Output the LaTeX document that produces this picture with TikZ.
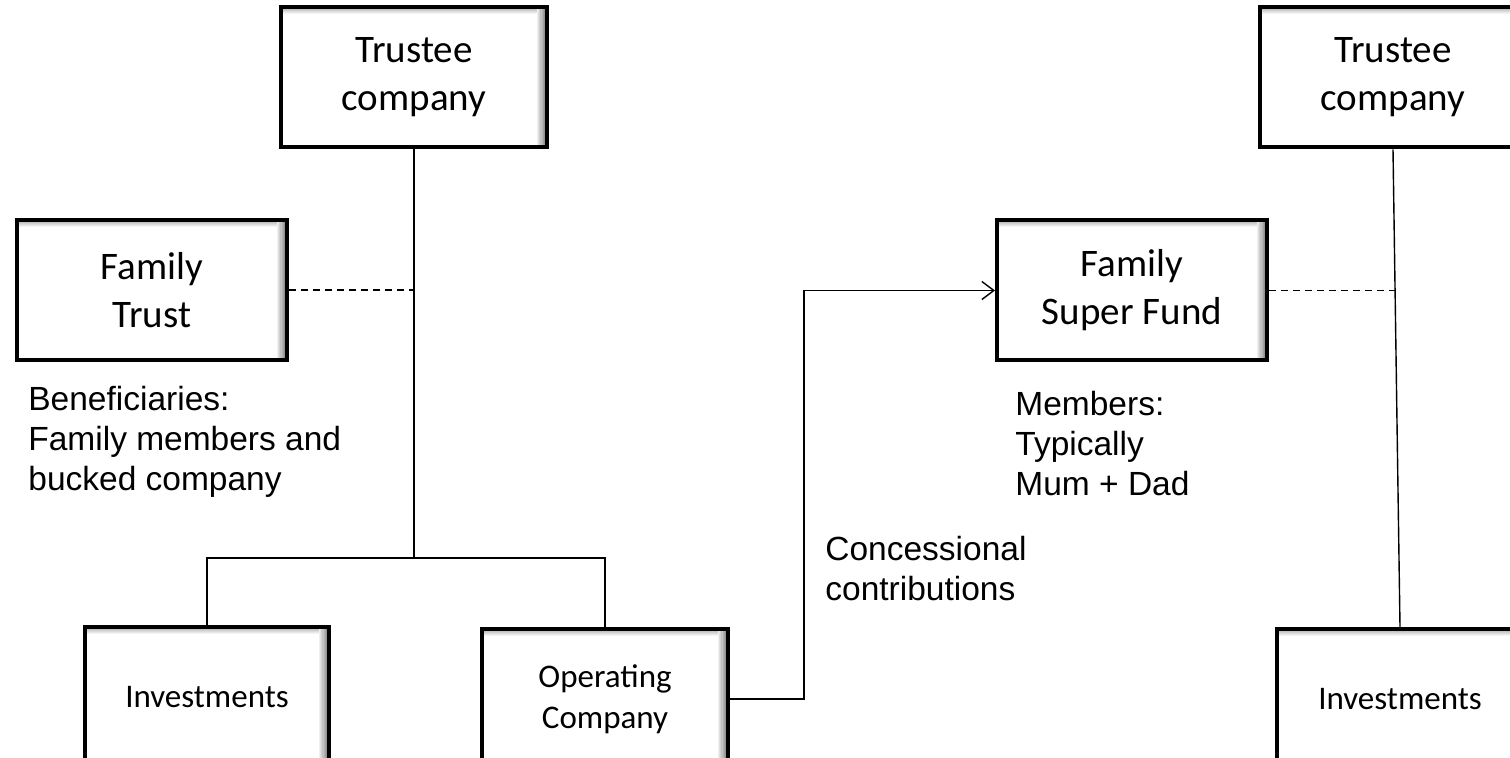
\documentclass[tikz,border=0pt]{standalone}
\usepackage{fontspec}
\setmainfont{Liberation Sans}
\newfontfamily\calibri{Carlito}
\usetikzlibrary{arrows.meta}
\usetikzlibrary{positioning}

\begin{document}
\begin{tikzpicture}[
    x=0.5pt, y=0.5pt,
    box/.style={draw=black, line width=2pt, fill=white, inner sep=0pt,
      align=center, minimum height=70pt,
      path picture={
        \foreach \k [evaluate=\k as \shd using int(24-5*\k)] in {0,...,4}
          \draw[black!\shd, line width=0.55pt]
            ([yshift=-1.2pt-0.5pt*\k]path picture bounding box.north west) --
            ([yshift=-1.2pt-0.5pt*\k]path picture bounding box.north east);
        \foreach \k [evaluate=\k as \shd using int(42-6*\k)] in {0,...,6}
          \draw[black!\shd, line width=0.65pt]
            ([xshift=-1.2pt-0.6pt*\k]path picture bounding box.north east) --
            ([xshift=-1.2pt-0.6pt*\k]path picture bounding box.south east);
      }},
    bigbox/.style={box, font=\calibri\fontsize{19.5pt}{24pt}\selectfont},
    smallbox/.style={box, font=\calibri\fontsize{16.5pt}{20.5pt}\selectfont},
    link/.style={line width=0.7pt, draw=black},
    tie/.style={link, dash pattern=on 3.5pt off 2.5pt},
    arrow/.style={link, -{Straight Barb[length=6pt, width=9pt]}},
    lbl/.style={font=\fontsize{16.75pt}{20pt}\selectfont, align=left, inner sep=0pt},
  ]
  \path[use as bounding box, clip] (0,0) rectangle (1510,-758);

  % === Family trust ===
  \node[bigbox, minimum width=133pt] (trusteeL) at (414,-77.5) {Trustee\\company};
  \node[bigbox, minimum width=135pt] (trust) at (152,-290) {Family\\Trust};
  \node[lbl, below=12pt of trust.south west, anchor=north west, xshift=6.5pt]
    (benef) {Beneficiaries:\\Family members and\\bucked company};

  \node[smallbox, minimum width=122pt] (invL) at (207,-697) {Investments};
  \node[smallbox, minimum width=123pt] (opco) at (605,-699) {Operating\\Company};

  \coordinate (forkL) at (414,-558);
  \draw[link] (trusteeL.south) -- (forkL);
  \draw[link] (invL.north) |- (forkL) -| (opco.north);
  \draw[tie] (trust.east) -- (trust.east -| forkL);

  % === Super fund ===
  \node[bigbox, minimum width=135pt] (fund) at (1132,-290.5) {Family\\Super Fund};
  \node[lbl, below=14pt of fund.south west, anchor=north west, xshift=10pt]
    (memb) {Members:\\Typically\\Mum + Dad};

  \coordinate (riser) at (804,0);
  \draw[arrow] (opco.east) -| (riser |- fund.west) -- (fund.west);
  \node[lbl, anchor=north west] (conc) at (825,-536) {Concessional\\contributions};

  \node[bigbox, minimum width=133pt] (trusteeR) at (1393,-77.5) {Trustee\\company};
  \node[smallbox, minimum width=123pt] (invR) at (1400,-699) {Investments};
  \draw[link] (trusteeR.south) -- (invR.north);
  \draw[tie] (fund.east) -- (fund.east -| invR.north);

\end{tikzpicture}
\end{document}
